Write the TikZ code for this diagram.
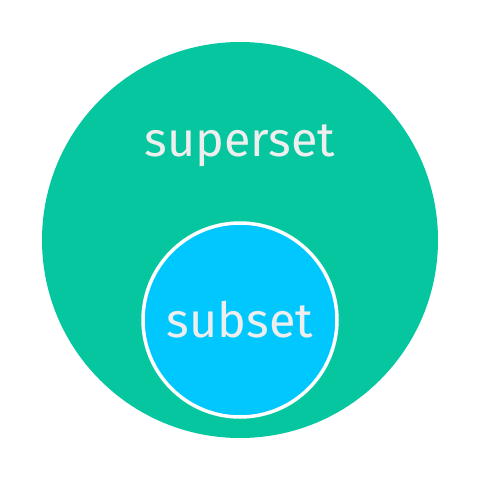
\documentclass[tikz,border=0pt]{standalone}
\usepackage{fontspec}
\setmainfont{Fira Sans}
\definecolor{supgreen}{HTML}{06C6A0}
\definecolor{subblue}{HTML}{00C8FF}
\definecolor{txt}{HTML}{EEEEEE}
\begin{document}
\begin{tikzpicture}[x=0.02cm,y=-0.02cm,
  lbl/.style={text=txt,font=\fontsize{27.6}{32}\selectfont,inner sep=0pt,anchor=base}]
\useasboundingbox (0,0) rectangle (480,480);
\fill[white] (0,0) rectangle (480,480);
\node[circle,fill=supgreen,minimum size=396*0.02cm,inner sep=0pt] (sup) at (240,240) {};
\node[circle,fill=subblue,draw=white,line width=3.5*0.02cm,minimum size=194*0.02cm,inner sep=0pt] (sub) at (240,320) {};
\node[lbl] (suplbl) at (240,156) {superset};
\node[lbl] (sublbl) at (240,337) {subset};
\end{tikzpicture}
\end{document}
